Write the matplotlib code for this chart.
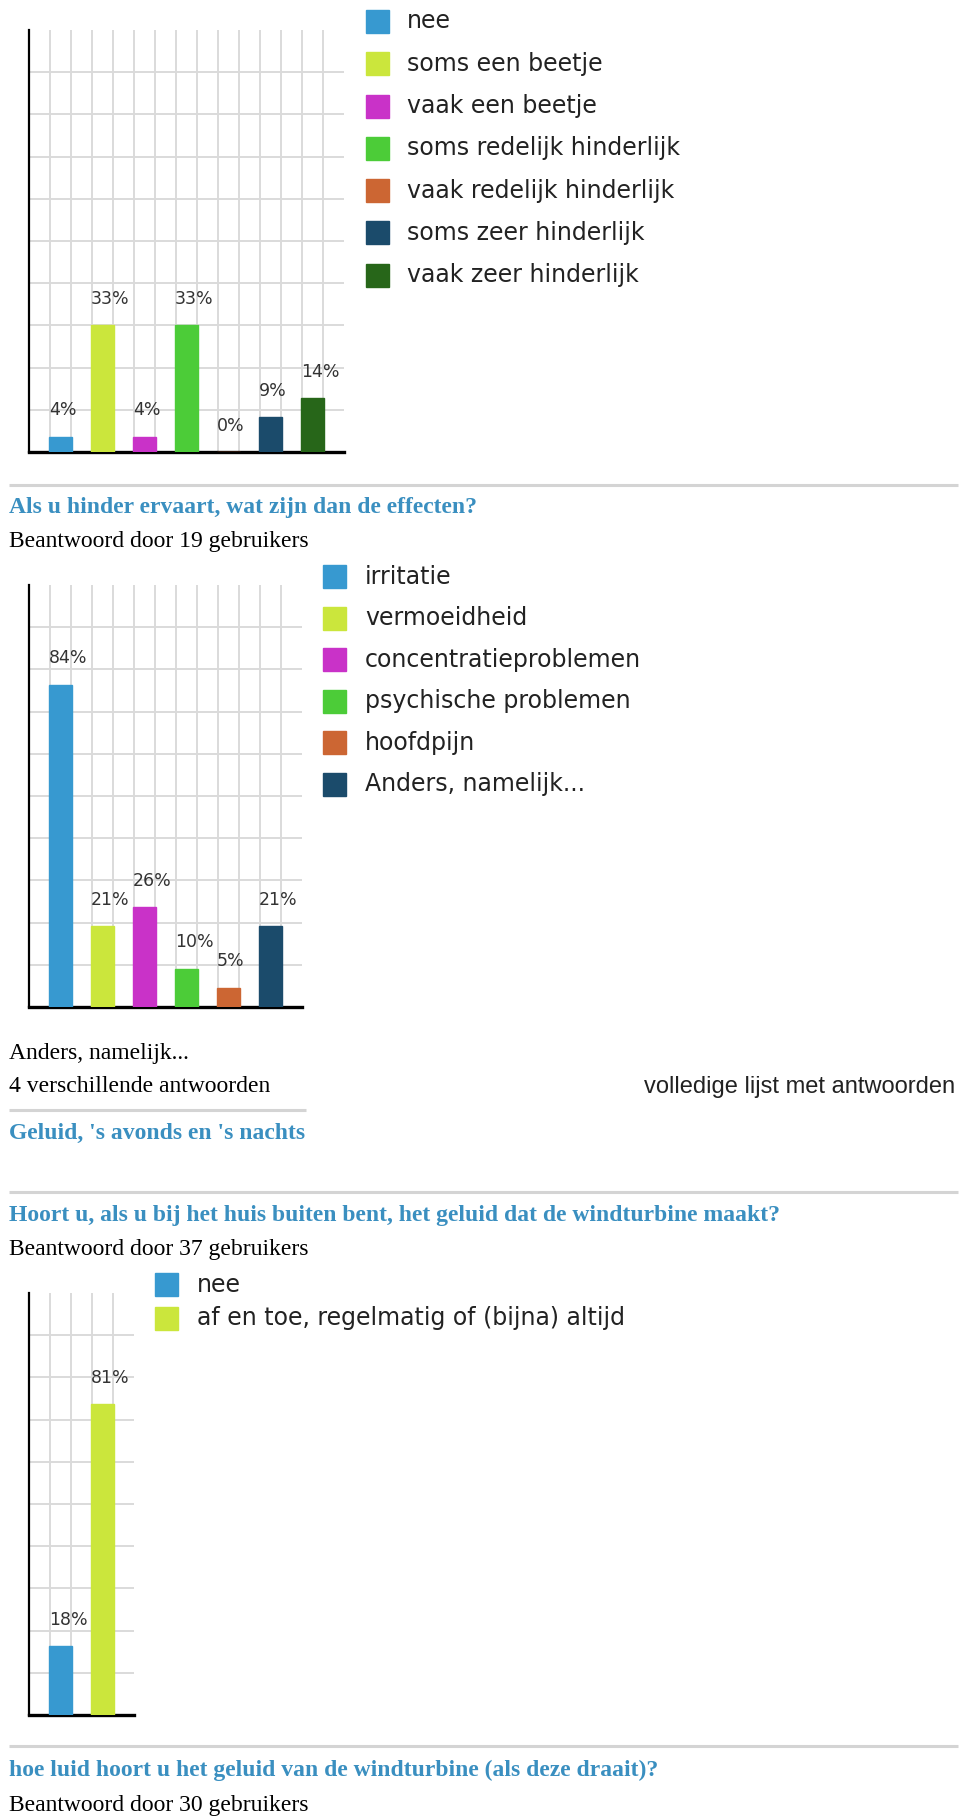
import matplotlib
matplotlib.use("Agg")
import matplotlib.pyplot as plt
from matplotlib.patches import Rectangle

W, H = 960, 1817

# data
hinder_labels = ["nee", "soms een beetje", "vaak een beetje", "soms redelijk hinderlijk",
                 "vaak redelijk hinderlijk", "soms zeer hinderlijk", "vaak zeer hinderlijk"]
hinder_values = [4, 33, 4, 33, 0, 9, 14]
hinder_colors = ["#3799d0", "#cbe63c", "#c932c8", "#4ccc38", "#cc6633", "#1b4b6b", "#276619"]

effect_labels = ["irritatie", "vermoeidheid", "concentratieproblemen", "psychische problemen",
                 "hoofdpijn", "Anders, namelijk..."]
effect_values = [84, 21, 26, 10, 5, 21]
effect_colors = ["#3799d0", "#cbe63c", "#c932c8", "#4ccc38", "#cc6633", "#1b4b6b"]

hoort_labels = ["nee", "af en toe, regelmatig of (bijna) altijd"]
hoort_values = [18, 81]
hoort_colors = ["#3799d0", "#cbe63c"]

TITLE_COL = "#3a8fc0"
SEP_COL = "#d4d4d4"
GRID_COL = "#dadada"

fig = plt.figure(figsize=(W / 100, H / 100), dpi=100)
fig.patch.set_facecolor("white")

page = fig.add_axes([0, 0, 1, 1])
page.set_xlim(0, W)
page.set_ylim(H, 0)
page.axis("off")


def px_rect(left, top, width, height):
    return [left / W, 1 - (top + height) / H, width / W, height / H]


def bar_chart(top, values, colors):
    # every bar takes two grid cells of 21 px, one cell of margin at the end
    n = len(values)
    units = 2 * n + 1
    ax = fig.add_axes(px_rect(29, top, units * 21, 422))
    ax.set_xlim(0, units)
    ax.set_ylim(0, 110)
    ax.set_xticks(range(1, units))
    ax.set_yticks(range(11, 110, 11))
    ax.grid(True, color=GRID_COL, linewidth=1.4)
    ax.set_axisbelow(True)
    ax.tick_params(length=0, labelbottom=False, labelleft=False)
    for s in ["top", "right"]:
        ax.spines[s].set_visible(False)
    ax.spines["left"].set_linewidth(1.6)
    ax.spines["bottom"].set_linewidth(2.4)
    ax.spines["left"].set_color("black")
    ax.spines["bottom"].set_color("black")
    xs = [2 * i + 1.5 for i in range(n)]
    ax.bar(xs, values, width=1.08, color=colors, edgecolor=colors, linewidth=1, zorder=3)
    for x, v in zip(xs, values):
        ax.annotate(f"{v}%", xy=(x - 0.54, v), xytext=(0, 19), textcoords="offset points",
                    ha="left", va="center", fontsize=12.5, color="#333333",
                    family="DejaVu Sans", annotation_clip=False)
    return ax


def legend(x, top, step, labels, colors, text_x):
    for i, (lab, col) in enumerate(zip(labels, colors)):
        y = top + i * step
        page.add_patch(Rectangle((x, y), 23, 23, color=col))
        page.text(text_x, y + 11.5, lab, fontsize=17, family="DejaVu Sans",
                  color="#222222", va="center", ha="left")


def sep(y, x0=9, x1=958):
    page.plot([x0, x1], [y, y], color=SEP_COL, linewidth=2.2, solid_capstyle="butt")


def title(y, s):
    page.text(9, y, s, fontsize=17, family="Liberation Serif", weight="bold",
              color=TITLE_COL, va="center", ha="left")


def body(y, s, x=9, ha="left", family="Liberation Serif", color="black"):
    page.text(x, y, s, fontsize=17, family=family, color=color, va="center", ha=ha)


# chart 1
bar_chart(30, hinder_values, hinder_colors)
legend(366, 10, 42.3, hinder_labels, hinder_colors, 407)

sep(485)
title(507, "Als u hinder ervaart, wat zijn dan de effecten?")
body(541, "Beantwoord door 19 gebruikers")

# chart 2
bar_chart(585, effect_values, effect_colors)
legend(323, 565, 41.6, effect_labels, effect_colors, 365)

body(1053, "Anders, namelijk...")
body(1087, "4 verschillende antwoorden")
body(1087, "volledige lijst met antwoorden", x=955, ha="right",
     family="Liberation Sans", color="#222222")
sep(1110, 9, 306)
title(1133, "Geluid, 's avonds en 's nachts")

sep(1192)
title(1215, "Hoort u, als u bij het huis buiten bent, het geluid dat de windturbine maakt?")
body(1250, "Beantwoord door 37 gebruikers")

# chart 3
bar_chart(1293, hoort_values, hoort_colors)
legend(155, 1273, 34, hoort_labels, hoort_colors, 197)

sep(1746)
title(1770, "hoe luid hoort u het geluid van de windturbine (als deze draait)?")
body(1805, "Beantwoord door 30 gebruikers")

fig.savefig("out.png", dpi=100, facecolor="white")
